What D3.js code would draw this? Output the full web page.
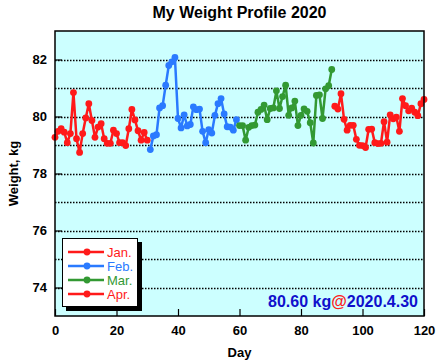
<!DOCTYPE html>
<html>
<head>
<meta charset="utf-8">
<script src="https://cdn.jsdelivr.net/npm/d3@7"></script>
<style>
body { margin: 0; background: #fff; }
text { font-family: "Liberation Sans", Arial, Helvetica, sans-serif; }
</style>
</head>
<body>
<svg width="441" height="364"></svg>
<script>
// data, day 0 = Jan 1
const months = ["Jan.", "Feb.", "Mar.", "Apr."]
const monthStart = [0, 31, 60, 91]
const jan = [79.27, 79.48, 79.57, 79.45, 79.08, 79.40, 80.84, 79.22, 78.74, 79.40,
    79.95, 80.45, 79.86, 79.27, 79.63, 79.75, 79.22, 79.06, 79.06, 79.52,
    79.40, 79.08, 79.08, 78.98, 79.57, 80.25, 79.88, 79.50, 79.17, 79.44, 79.17]
const feb = [78.84, 79.32, 79.36, 80.30, 80.38, 81.10, 81.79, 81.92, 82.07, 79.93,
    79.60, 80.06, 79.67, 79.72, 80.34, 80.24, 80.26, 79.48, 79.08, 79.54,
    79.42, 80.04, 80.45, 80.63, 80.09, 79.64, 79.63, 79.52, 79.89]
const mar = [79.68, 79.68, 79.17, 79.62, 79.68, 79.70, 80.15, 80.25, 80.40, 79.89,
    80.28, 80.30, 80.90, 80.28, 80.70, 81.10, 80.04, 80.30, 80.54, 79.68,
    80.04, 80.27, 80.18, 79.78, 79.07, 80.74, 80.76, 79.93, 80.97, 81.08, 81.65]
const apr = [80.36, 80.26, 80.80, 79.90, 79.52, 79.69, 79.69, 79.20, 78.99, 78.98,
    78.91, 79.55, 79.56, 79.08, 79.05, 79.06, 79.82, 79.10, 80.06, 79.92,
    79.98, 79.48, 80.63, 80.38, 80.20, 80.29, 80.15, 80.03, 80.45, 80.60]
const xTicks = [0, 20, 40, 60, 80, 100, 120]
const yTicks = [74, 76, 78, 80, 82]
const gridLevels = [74, 75, 76, 77, 78, 79, 80, 81, 82]
const lastWeight = "80.60 kg"
const lastDate = "2020.4.30"

const colors = ["#ff1a1a", "#2a7aff", "#339933", "#ff1a1a"]
const series = [jan, feb, mar, apr].map((vals, i) => ({
    name: months[i],
    color: colors[i],
    points: vals.map((v, j) => ({ day: monthStart[i] + j, w: v }))
}))

const svg = d3.select("svg")
const pLeft = 55, pTop = 31, pRight = 424, pBottom = 316

const x = d3.scaleLinear().domain([0, 120]).range([pLeft, pRight])
const y = d3.scaleLinear().domain([73, 83]).range([pBottom, pTop])

svg.append("rect")
    .attr("x", pLeft).attr("y", pTop)
    .attr("width", pRight - pLeft).attr("height", pBottom - pTop)
    .attr("fill", "#ccffff")

// dotted grid lines
svg.append("g").selectAll("line")
    .data(gridLevels)
    .join("line")
    .attr("x1", pLeft).attr("x2", pRight)
    .attr("y1", d => Math.round(y(d)) + 0.5).attr("y2", d => Math.round(y(d)) + 0.5)
    .attr("stroke", "#000")
    .attr("stroke-width", 1.3)
    .attr("stroke-dasharray", "1.5,1.5")

// axes with inward ticks
const xAxis = svg.append("g")
    .attr("transform", `translate(0,${pBottom})`)
    .call(d3.axisBottom(x).tickValues(xTicks).tickSizeInner(-7).tickSizeOuter(0).tickPadding(10))
const yAxis = svg.append("g")
    .attr("transform", `translate(${pLeft},0)`)
    .call(d3.axisLeft(y).tickValues(yTicks).tickSizeInner(-7).tickSizeOuter(0).tickPadding(8))
for (const ax of [xAxis, yAxis]) {
    ax.select(".domain").remove()
    ax.selectAll("line").attr("stroke", "#000").attr("stroke-width", 1.2)
    ax.selectAll("text").attr("font-size", 13).attr("font-weight", "bold").attr("fill", "#000")
        .style("font-family", '"Liberation Sans", Arial, sans-serif')
}

// series
const line = d3.line().x(d => x(d.day)).y(d => y(d.w))
series.forEach(s => {
    svg.append("path")
        .datum(s.points)
        .attr("d", line)
        .attr("fill", "none")
        .attr("stroke", s.color)
        .attr("stroke-width", 2.5)
        .attr("stroke-linejoin", "round")
    svg.append("g").selectAll("circle")
        .data(s.points)
        .join("circle")
        .attr("cx", d => x(d.day))
        .attr("cy", d => y(d.w))
        .attr("r", 3.4)
        .attr("fill", s.color)
})

// plot border
svg.append("rect")
    .attr("x", pLeft).attr("y", pTop)
    .attr("width", pRight - pLeft).attr("height", pBottom - pTop)
    .attr("fill", "none").attr("stroke", "#000").attr("stroke-width", 1.5)

// legend
const lg = svg.append("g")
lg.append("rect").attr("x", 66).attr("y", 242).attr("width", 76).attr("height", 69).attr("fill", "#000")
lg.append("rect").attr("x", 62.5).attr("y", 238.5).attr("width", 75).attr("height", 68)
    .attr("fill", "#fff").attr("stroke", "#000").attr("stroke-width", 1)
series.forEach((s, i) => {
    const yy = 252 + i * 14
    lg.append("line").attr("x1", 68).attr("x2", 104).attr("y1", yy).attr("y2", yy)
        .attr("stroke", s.color).attr("stroke-width", 2.5)
    lg.append("circle").attr("cx", 87).attr("cy", yy).attr("r", 3.4).attr("fill", s.color)
    lg.append("text").attr("x", 107).attr("y", yy + 4.5)
        .attr("font-size", 13).attr("fill", s.color).text(s.name)
})

// latest value note
const note = svg.append("text")
    .attr("x", 418).attr("y", 307)
    .attr("text-anchor", "end")
    .attr("font-size", 16).attr("font-weight", "bold")
note.append("tspan").attr("fill", "#1010cc").text(lastWeight)
note.append("tspan").attr("fill", "#ff2020").text("@")
note.append("tspan").attr("fill", "#1010cc").text(lastDate)

// titles
svg.append("text").attr("x", (pLeft + pRight) / 2).attr("y", 18)
    .attr("text-anchor", "middle").attr("font-size", 16).attr("font-weight", "bold")
    .text("My Weight Profile 2020")
svg.append("text").attr("x", (pLeft + pRight) / 2).attr("y", 357)
    .attr("text-anchor", "middle").attr("font-size", 13).attr("font-weight", "bold")
    .text("Day")
svg.append("text")
    .attr("transform", `translate(18,${(pTop + pBottom) / 2}) rotate(-90)`)
    .attr("text-anchor", "middle").attr("font-size", 13).attr("font-weight", "bold")
    .text("Weight, kg")
</script>
</body>
</html>
